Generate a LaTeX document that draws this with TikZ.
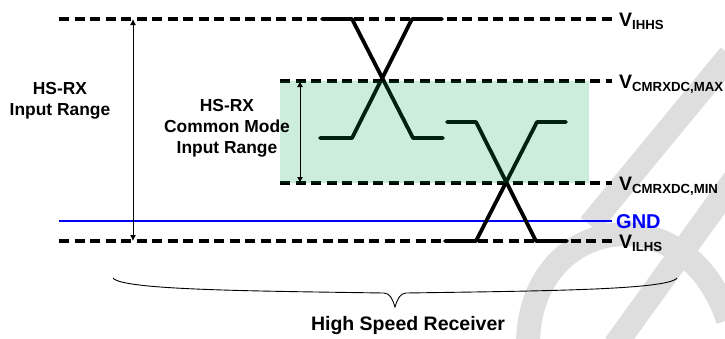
\documentclass[tikz,border=0pt]{standalone}
\usepackage{fontspec}
\setmainfont{Liberation Sans}
\usetikzlibrary{arrows.meta}
\definecolor{cmgreen}{RGB}{0,166,77}
\definecolor{wm}{RGB}{222,222,222}
\tikzset{
  lvl/.style={line width=3.1pt, dash pattern=on 10pt off 5.5pt},
  sig/.style={line width=3.8pt, line cap=round, line join=round},
  dimarrow/.style={line width=0.9pt, {Latex[length=6pt,width=6pt]}-{Latex[length=6pt,width=6pt]}},
  lbl/.style={font=\fontsize{17.4}{21}\selectfont\bfseries, align=center},
  vlbl/.style={anchor=base west, inner sep=0pt, font=\bfseries},
  wmark/.style={line width=24pt, color=wm}
}
\newcommand{\vsub}[1]{{\fontsize{19.5}{19.5}\selectfont V}{\fontsize{13.2}{13.2}\selectfont\raisebox{-3pt}{#1}}}
\begin{document}
\begin{tikzpicture}[x=1pt,y=-1pt]
\useasboundingbox (0,0) rectangle (725,338);
% watermark
\draw[wmark] (730,55) -- (590,225);
\draw[wmark] (745,165) -- (615,345);
\draw[wmark] (528,345) .. controls (528,215) and (685,190) .. (728,320);
% level coordinates
\coordinate (ihL) at (59,19);   \coordinate (ihR) at (612,19);
\coordinate (mxL) at (280,81);  \coordinate (mxR) at (612,81);
\coordinate (mnL) at (280,183); \coordinate (mnR) at (612,183);
\coordinate (gL) at (59,221);   \coordinate (gR) at (612,221);
\coordinate (ilL) at (59,241);  \coordinate (ilR) at (612,241);
\draw[lvl] (ihL) -- (ihR);
\draw[lvl] (mxL) -- (mxR);
\draw[lvl] (mnL) -- (mnR);
\draw[lvl] (ilL) -- (ilR);
\draw[line width=2.2pt, blue] (gL) -- (gR);
% signals eye 1
\coordinate (s1a) at (322,19); \coordinate (s1b) at (352,19);
\coordinate (s1c) at (413,138); \coordinate (s1d) at (443,138);
\coordinate (s2a) at (320,138); \coordinate (s2b) at (352,138);
\coordinate (s2c) at (412,19); \coordinate (s2d) at (442,19);
\draw[sig] (s1a) -- (s1b) -- (s1c) -- (s1d);
\draw[sig] (s2a) -- (s2b) -- (s2c) -- (s2d);
% signals eye 2
\coordinate (t1a) at (447,122); \coordinate (t1b) at (476,122);
\coordinate (t1c) at (536,241); \coordinate (t1d) at (567,241);
\coordinate (t2a) at (445,241); \coordinate (t2b) at (476,241);
\coordinate (t2c) at (537,122); \coordinate (t2d) at (566,122);
\draw[sig] (t1a) -- (t1b) -- (t1c) -- (t1d);
\draw[sig] (t2a) -- (t2b) -- (t2c) -- (t2d);
% common mode band
\fill[cmgreen, fill opacity=0.2] (280,81) rectangle (589,183);
% arrows
\coordinate (a1t) at (133,19); \coordinate (a1b) at (133,241);
\coordinate (a2t) at (300,81); \coordinate (a2b) at (300,183);
\draw[dimarrow] (a1t) -- (a1b);
\draw[dimarrow] (a2t) -- (a2b);
% labels
\node[lbl] (inrange) at (60,101) {HS-RX\\Input Range};
\node[lbl] (cmrange) at (227,128) {HS-RX\\Common Mode\\Input Range};
\node[vlbl] (vihhs) at (619,26) {\vsub{IHHS}};
\node[vlbl] (vmax) at (619,88) {\vsub{CMRXDC,MAX}};
\node[vlbl] (vmin) at (619,190) {\vsub{CMRXDC,MIN}};
\node[vlbl, text=blue, font=\fontsize{20}{20}\selectfont\bfseries] (gnd) at (616,228) {GND};
\node[vlbl] (vilhs) at (619,248) {\vsub{ILHS}};
% brace
\coordinate (brL) at (113,278); \coordinate (brT) at (395,307); \coordinate (brR) at (677,278);
\draw[line width=0.9pt] (brL) .. controls (122,290) and (250,291) .. (384,293)
  .. controls (390,293) and (393,300) .. (brT)
  .. controls (397,300) and (400,293) .. (406,293)
  .. controls (540,291) and (668,290) .. (brR);
\node[lbl, font=\fontsize{19.5}{21}\selectfont\bfseries] (hsr) at (408,325) {High Speed Receiver};
\end{tikzpicture}
\end{document}
